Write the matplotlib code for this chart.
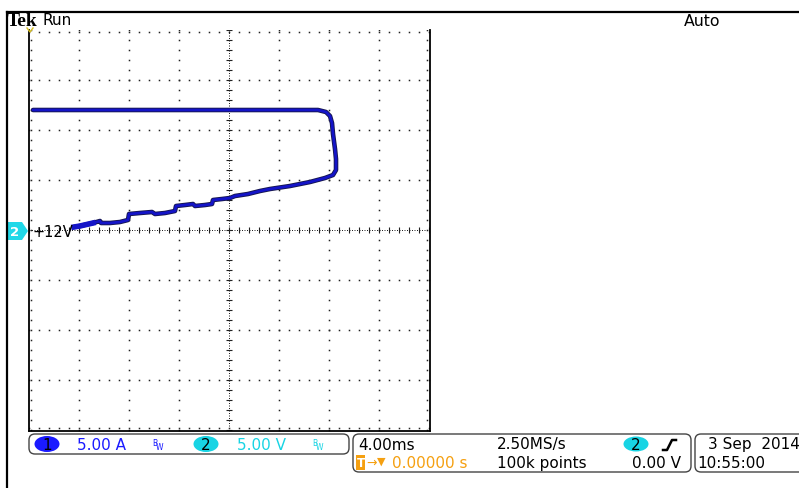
import numpy as np
import matplotlib.pyplot as plt
import matplotlib.patheffects as pe
from matplotlib.patches import FancyBboxPatch, Ellipse, Polygon, Rectangle

W, H = 799, 489

# XY mode trace: ch1 current (x, 5 A/div) against ch2 voltage (y, 5 V/div, +12 V at centre)
current_a = [-15.5, -14.9, -13.6, -12.9, -12.8, -11.9, -10.9, -10.1, -10.0, -8.9,
             -7.7, -7.4, -6.4, -5.4, -5.3, -4.4, -3.6, -3.4, -2.4, -1.7,
             -1.6, -0.7, 0.1, 0.6, 1.9, 3.1, 4.1, 6.1, 8.1, 9.6,
             10.4, 10.7, 10.7, 10.6, 10.4, 10.3, 10.1, 9.7, 8.9, 7.1,
             2.1, -2.9, -12.9, -19.6]
voltage_v = [12.3, 12.4, 12.7, 12.9, 12.7, 12.7, 12.8, 13.0, 13.6, 13.7,
             13.8, 13.6, 13.7, 13.9, 14.4, 14.5, 14.6, 14.4, 14.5, 14.6,
             15.0, 15.1, 15.2, 15.4, 15.6, 15.9, 16.1, 16.4, 16.8, 17.2,
             17.5, 18.0, 19.1, 20.1, 21.6, 22.7, 23.4, 23.8, 24.0, 24.0,
             24.0, 24.0, 24.0, 24.0]

ch1_scale = "5.00 A"
ch2_scale = "5.00 V"
ch2_offset = "+12V"
timebase = "4.00ms"
sample_rate = "2.50MS/s"
trig_pos = "0.00000 s"
rec_len = "100k points"
trig_level = "0.00 V"
date_str = "3 Sep  2014"
time_str = "10:55:00"

plt.rcParams['font.family'] = ['DejaVu Sans']
fig = plt.figure(figsize=(W / 100, H / 100), dpi=100)

# graticule axes, placed in pixels
gl, gr, gt, gb = 28.5, 430, 30.5, 432
ax = fig.add_axes([gl / W, 1 - gb / H, (gr - gl) / W, (gb - gt) / H])
ax.set_xlim(-20.05, 20.1)
ax.set_ylim(-8.1, 32.05)
ax.set_xticks([])
ax.set_yticks([])
for s in ["left", "right", "bottom"]:
    ax.spines[s].set_linewidth(1.3)
    ax.spines[s].set_color("black")
ax.spines["top"].set_visible(False)

dot = dict(ls="none", marker="s", ms=1.1, mew=0, color="#222222")
ys = np.arange(-8, 33, 1.0)
xs = np.arange(-20, 21, 1.0)
for gx in [-15, -10, -5, 5, 10, 15]:
    ax.plot(np.full_like(ys, gx), ys, **dot)
for gy in [-3, 2, 7, 17, 22, 27]:
    ax.plot(xs, np.full_like(xs, gy), **dot)
# edge ticks
ax.plot(np.full_like(ys, -19.8), ys, **dot)
ax.plot(np.full_like(ys, 19.8), ys, **dot)
ax.plot(xs, np.full_like(xs, -7.8), **dot)
ax.plot(xs, np.full_like(xs, 31.8), **dot)
# centre crosshair
ax.axhline(12, color="#222222", lw=0.72, ls=(0, (1, 1.5)))
ax.axvline(0, color="#222222", lw=0.72, ls=(0, (1, 1.5)))
ax.plot(xs, np.full_like(xs, 12), ls="none", marker="|", ms=4.5, mew=0.8, color="#222222")
ax.plot(np.full_like(ys, 0), ys, ls="none", marker="_", ms=4.5, mew=0.8, color="#222222")

# trace
ax.plot(current_a, voltage_v, color="#1414c8", lw=2.0, solid_capstyle="round",
        solid_joinstyle="round",
        path_effects=[pe.Stroke(linewidth=3.3, foreground="#16164e"), pe.Normal()], zorder=5)
ax.plot(current_a[:3], voltage_v[:3], color="#1414c8", lw=4, zorder=6)

# overlay in pixel coordinates for the scope chrome
ov = fig.add_axes([0, 0, 1, 1])
ov.set_xlim(0, W)
ov.set_ylim(H, 0)
ov.axis("off")
ov.patch.set_visible(False)

ov.plot([7, W], [13, 13], color="black", lw=1.6)
ov.plot([7, 7], [13, H], color="black", lw=1.6)

ov.text(7, 21.5, "Tek", family="Liberation Serif", fontweight="bold", fontsize=14, va="center")
ov.text(43, 20.5, "Run", fontsize=11, va="center")
ov.text(684, 21, "Auto", fontsize=11.3, va="center")

# trigger position marker
ov.plot([27, 30, 33], [29, 33, 29], color="#d8c020", lw=1)

# ch2 ground marker
ov.add_patch(Polygon([[8, 223], [22, 223], [28, 232], [22, 241], [8, 241]],
                     closed=True, fc="#20d8e8", ec="none"))
ov.text(15, 232.5, "2", fontsize=9.5, color="white", fontweight="bold", ha="center", va="center")
ov.text(33, 232.5, ch2_offset, fontsize=10.5, va="center")

# status boxes
box = dict(boxstyle="round,pad=0,rounding_size=6", fc="white", ec="#444444", lw=1)
ov.add_patch(FancyBboxPatch((29, 435), 320, 20, **box))
ov.add_patch(FancyBboxPatch((353, 435), 338, 38, **box))
ov.add_patch(FancyBboxPatch((695, 435), 120, 38, **box))

blue = "#1a1aff"
cyan = "#18d4e4"
orange = "#f5a011"
ov.add_patch(Ellipse((47, 445), 25, 16, fc=blue, ec="none"))
ov.text(47, 445.5, "1", fontsize=11, ha="center", va="center")
ov.text(77, 445.5, ch1_scale, fontsize=11, color=blue, va="center")
ov.text(152, 443, "B", fontsize=5.5, color=blue, va="center")
ov.text(156, 447, "W", fontsize=5.5, color=blue, va="center")
ov.add_patch(Ellipse((206, 445), 25, 16, fc=cyan, ec="none"))
ov.text(206, 445.5, "2", fontsize=11, ha="center", va="center")
ov.text(237, 445.5, ch2_scale, fontsize=11, color=cyan, va="center")
ov.text(312, 443, "B", fontsize=5.5, color=cyan, va="center")
ov.text(316, 447, "W", fontsize=5.5, color=cyan, va="center")

ov.text(358, 445, timebase, fontsize=11, va="center")
ov.text(497, 445, sample_rate, fontsize=11, va="center")
ov.add_patch(Ellipse((636, 445), 25, 15, fc=cyan, ec="none"))
ov.text(636, 445.5, "2", fontsize=11, ha="center", va="center")
ov.plot([663, 667, 672, 676], [451, 451, 441, 441], color="black", lw=1.8)

ov.add_patch(Rectangle((356, 456), 9, 15, fc=orange, ec="none"))
ov.text(360.5, 463.5, "T", fontsize=8.5, color="white", fontweight="bold", ha="center", va="center")
ov.text(366, 463, "→", fontsize=9, color=orange, va="center")
ov.text(377, 462, "▼", fontsize=8, color=orange, va="center")
ov.text(392, 463.5, trig_pos, fontsize=11, color=orange, va="center")
ov.text(497, 463.5, rec_len, fontsize=11, va="center")
ov.text(681, 463.5, trig_level, fontsize=11, ha="right", va="center")

ov.text(708, 445, date_str, fontsize=11, va="center")
ov.text(697, 463.5, time_str, fontsize=11, va="center")

fig.savefig("out.png", dpi=100)
